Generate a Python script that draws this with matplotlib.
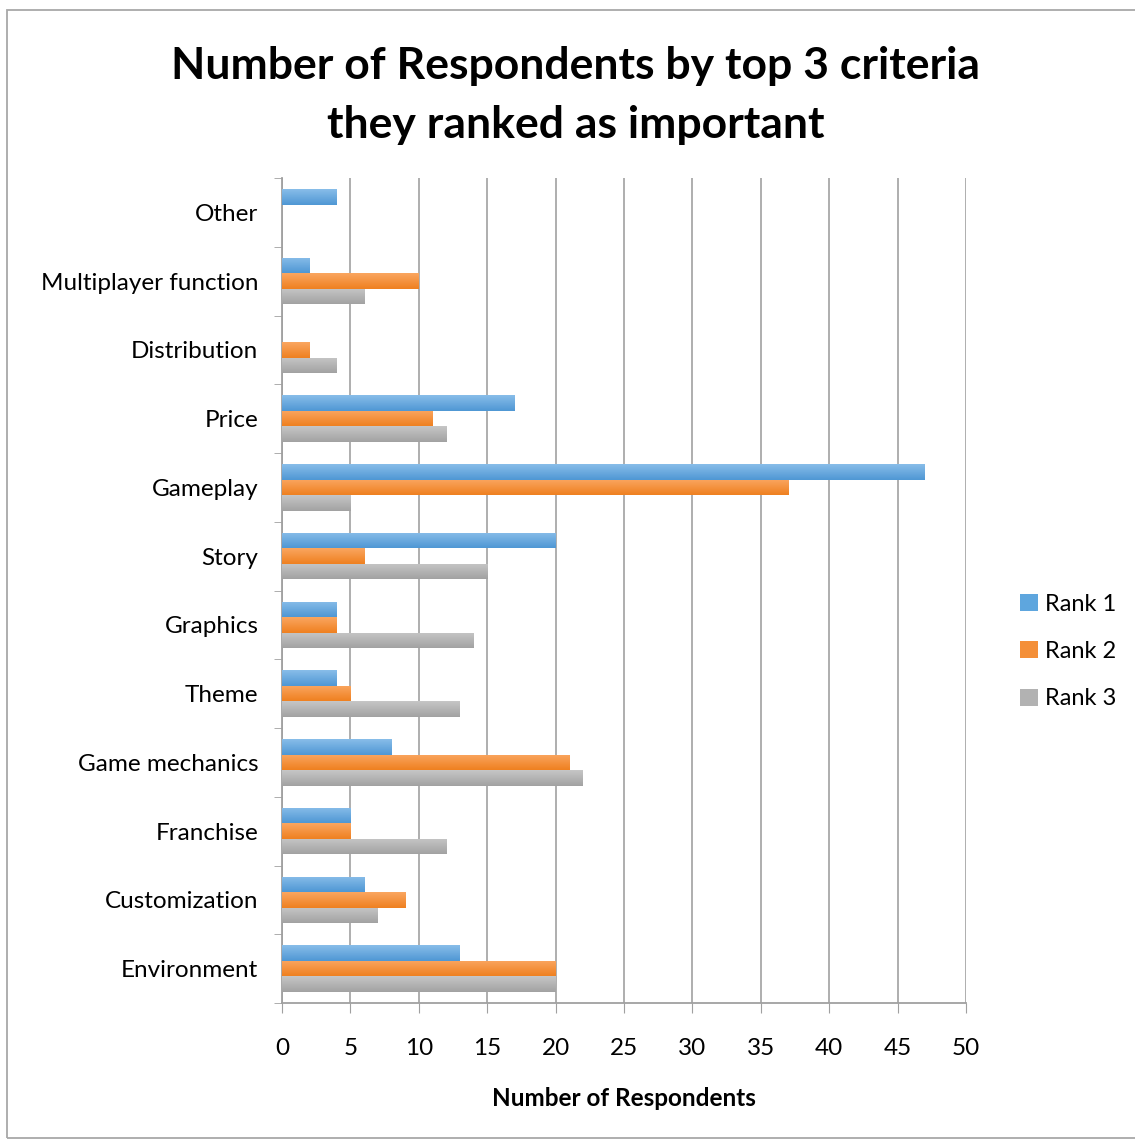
import numpy as np
import matplotlib
matplotlib.use("Agg")
import matplotlib.pyplot as plt
from matplotlib.colors import LinearSegmentedColormap
from matplotlib.patches import Rectangle

plt.rcParams["font.family"] = ["Lato", "DejaVu Sans"]

categories = ["Environment", "Customization", "Franchise", "Game mechanics", "Theme",
              "Graphics", "Story", "Gameplay", "Price", "Distribution",
              "Multiplayer function", "Other"]
rank1 = [13, 6, 5, 8, 4, 4, 20, 47, 17, 0, 2, 4]
rank2 = [20, 9, 5, 21, 5, 4, 6, 37, 11, 2, 10, 0]
rank3 = [20, 7, 12, 22, 13, 14, 15, 5, 12, 4, 6, 0]
series = ["Rank 1", "Rank 2", "Rank 3"]

# (top, bottom) of the vertical gradient on each bar
grads = [("#88bde9", "#4f97d4"), ("#faa660", "#ef8020"), ("#c6c6c6", "#a2a2a2")]
mids = ["#5ea6de", "#f48f38", "#b2b2b2"]

fig = plt.figure(figsize=(11.35, 11.39), dpi=100)
ax = fig.add_axes([0.2485, 0.1194, 0.6026, 0.7243])

y = np.arange(len(categories))
h = 0.225
offsets = [h, 0, -h]
grad = np.linspace(0, 1, 64).reshape(-1, 1)

for vals, off, (top, bot), mid, name in zip([rank1, rank2, rank3], offsets, grads, mids, series):
    bars = ax.barh(y + off, vals, height=h, color=mid, label=name, zorder=3, linewidth=0)
    cmap = LinearSegmentedColormap.from_list(name, [bot, top])
    for b in bars:
        w = b.get_width()
        if w <= 0:
            continue
        y0 = b.get_y()
        im = ax.imshow(grad, extent=[0, w, y0, y0 + h], origin="lower", cmap=cmap,
                       aspect="auto", zorder=4, interpolation="bilinear")
        im.set_clip_path(b)

ax.set_xlim(0, 50)
ax.set_ylim(-0.5, len(categories) - 0.5)
ax.set_xticks(range(0, 51, 5))
ax.set_yticks(y)
ax.set_yticklabels(categories, fontsize=17.5)
ax.tick_params(axis="y", length=0, pad=17)
ax.set_yticks(np.arange(-0.5, len(categories)), minor=True)
ax.tick_params(axis="y", which="minor", length=6, color="#a0a0a0", direction="out")
ax.tick_params(axis="x", labelsize=17.5, length=7, color="#a0a0a0", pad=18)

ax.grid(True, axis="x", color="#a8a8a8", linewidth=1.3, zorder=0)
for s in ["top", "right"]:
    ax.spines[s].set_visible(False)
for s in ["left", "bottom"]:
    ax.spines[s].set_color("#a0a0a0")
    ax.spines[s].set_linewidth(1.3)

ax.set_xlabel("Number of Respondents", fontsize=17.5, fontweight="bold", labelpad=20)

fig.text(0.507, 0.960, "Number of Respondents by top 3 criteria\nthey ranked as important",
         ha="center", va="top", fontsize=32, fontweight="bold", linespacing=1.58)

handles, labels = ax.get_legend_handles_labels()
leg = fig.legend(handles, labels, loc="center left", bbox_to_anchor=(0.88, 0.428),
                 frameon=False, fontsize=17, handlelength=0.75, handleheight=0.75,
                 handletextpad=0.3, labelspacing=1.12)

fig.patches.append(Rectangle((0.006, 0.001), 1.2, 0.99, transform=fig.transFigure,
                             fill=False, edgecolor="#a8a8a8", linewidth=1.3))

fig.savefig("out.png", dpi=100)
